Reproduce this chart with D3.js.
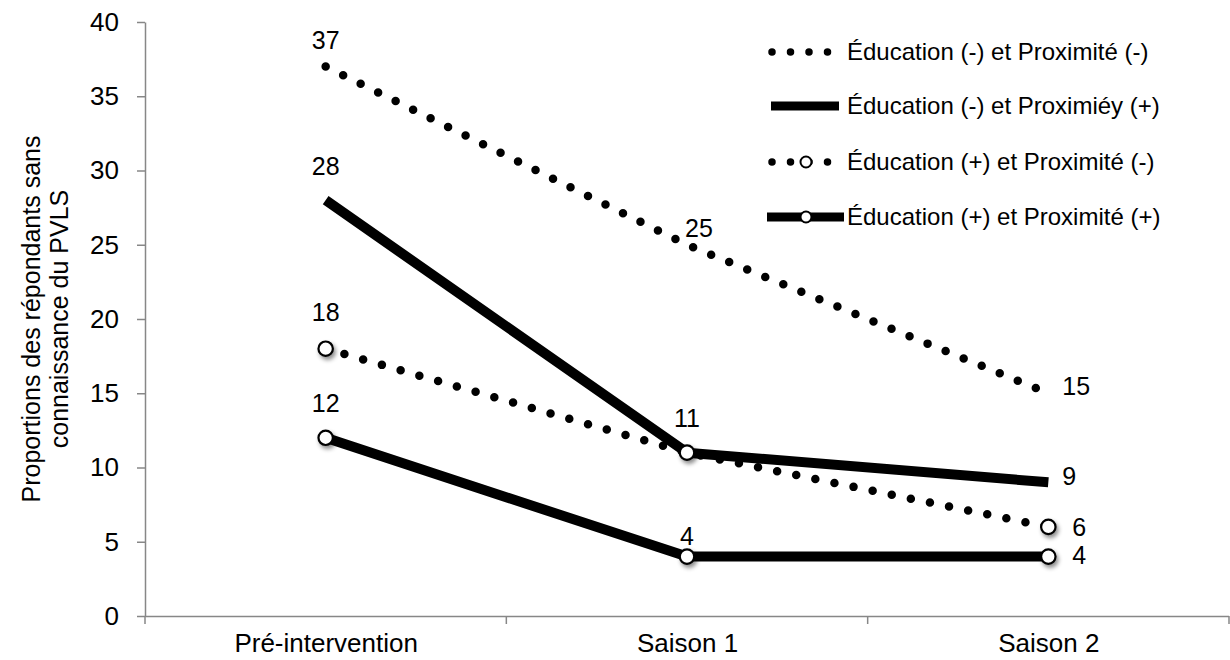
<!DOCTYPE html>
<html><head><meta charset="utf-8">
<script src="https://cdn.jsdelivr.net/npm/d3@7"></script>
<style>
body{margin:0;background:#fff}
svg{display:block}
text{font-family:"Liberation Sans",Arial,Helvetica,sans-serif;fill:#000}
</style>
</head><body>
<svg id="chart" width="1230" height="660"></svg>
<script>
// ---- data ----
const categories = ["Pré-intervention", "Saison 1", "Saison 2"];
const seriesNames = [
  "Éducation (-) et Proximité (-)",
  "Éducation (-) et Proximiéy (+)",
  "Éducation (+) et Proximité (-)",
  "Éducation (+) et Proximité (+)"
];
const eduMoinsProxMoins = [37, 25, 15];
const eduMoinsProxPlus  = [28, 11, 9];
const eduPlusProxMoins  = [18, 11, 6];
const eduPlusProxPlus   = [12, 4, 4];
const yTicks = [0, 5, 10, 15, 20, 25, 30, 35, 40];
const yTitle = ["Proportions des répondants sans", "connaissance du PVLS"];

(function () {
// ---- styles / layout (not data) ----
const series = [
  {name: seriesNames[0], values: eduMoinsProxMoins, dotted: true,  marker: false,
   labels: [{a:"middle",dx:0,dy:-26},{a:"middle",dx:12,dy:-17},{a:"start",dx:14,dy:-7}]},
  {name: seriesNames[1], values: eduMoinsProxPlus,  dotted: false, marker: false,
   labels: [{a:"middle",dx:0,dy:-34},null,{a:"start",dx:14,dy:-6}]},
  {name: seriesNames[2], values: eduPlusProxMoins,  dotted: true,  marker: true,
   labels: [{a:"middle",dx:0,dy:-36},{a:"middle",dx:0,dy:-34},{a:"start",dx:24,dy:0}]},
  {name: seriesNames[3], values: eduPlusProxPlus,   dotted: false, marker: true,
   labels: [{a:"middle",dx:0,dy:-35},{a:"middle",dx:0,dy:-20},{a:"start",dx:24,dy:-1}]}
];

const svg = d3.select("#chart");
const mLeft = 145, mRight = 1229, mTop = 22, mBottom = 616;
const axisColor = "#878787";
const fsAxis = 26, fsTitle = 25, fsLab = 25, fsLeg = 24;

const defs = svg.append("defs");
defs.append("filter").attr("id","sh").attr("x","-60%").attr("y","-60%").attr("width","220%").attr("height","220%")
  .append("feDropShadow").attr("dx",2).attr("dy",3).attr("stdDeviation",2)
  .attr("flood-color","#000").attr("flood-opacity",0.45);

const x = d3.scalePoint().domain(categories).range([mLeft, mRight]).padding(0.5);
const xb = d3.scaleBand().domain(categories).range([mLeft, mRight]);
const y = d3.scaleLinear().domain([0, 40]).range([mBottom, mTop]);

// y axis
const yAxis = svg.append("g").attr("transform", `translate(${mLeft},0)`)
  .call(d3.axisLeft(y).tickValues(yTicks).tickSize(8).tickPadding(18).tickSizeOuter(0));
yAxis.select(".domain").attr("stroke", axisColor).attr("stroke-width", 1.5);
yAxis.selectAll(".tick line").attr("stroke", axisColor).attr("stroke-width", 1.5);
yAxis.selectAll(".tick text").attr("font-size", fsAxis).attr("fill", "#000")
  .attr("font-family", '"Liberation Sans",Arial,sans-serif');

// x axis
const xAxis = svg.append("g").attr("transform", `translate(0,${mBottom})`)
  .call(d3.axisBottom(x).tickSize(0).tickPadding(0).tickSizeOuter(0));
xAxis.select(".domain").attr("stroke", axisColor).attr("stroke-width", 1.5)
  .attr("d", `M${mLeft},0.5H${mRight}`);
xAxis.selectAll(".tick text").attr("font-size", fsAxis).attr("fill", "#000")
  .attr("dy", null).attr("y", 36)
  .attr("font-family", '"Liberation Sans",Arial,sans-serif');
const bounds = categories.map(c => xb(c)).concat([xb.range()[1]]);
xAxis.selectAll(".bt").data(bounds).enter().append("line")
  .attr("x1", d => d).attr("x2", d => d).attr("y1", 0).attr("y2", 8)
  .attr("stroke", axisColor).attr("stroke-width", 1.5);

// y title
const yt = svg.append("text").attr("transform", `translate(0,${(mTop + mBottom) / 2}) rotate(-90)`)
  .attr("text-anchor", "middle").attr("font-size", fsTitle);
yt.selectAll("tspan").data(yTitle).enter().append("tspan")
  .attr("x", 0).attr("y", (d, i) => 40 + i * 28).text(d => d);

// lines
const line = d3.line().x((d, i) => x(categories[i])).y(d => y(d));
const plot = svg.append("g");
series.forEach(s => {
  const p = plot.append("path").datum(s.values).attr("d", line)
    .attr("fill", "none").attr("stroke", "#000").attr("stroke-linejoin", "round");
  if (s.dotted) {
    p.attr("stroke-width", 8.5).attr("stroke-linecap", "round").attr("stroke-dasharray", "0 19.5");
  } else {
    p.attr("stroke-width", 10).attr("stroke-linecap", "butt");
  }
});
// markers
series.filter(s => s.marker).forEach(s => {
  plot.selectAll(null).data(s.values).enter().append("circle")
    .attr("cx", (d, i) => x(categories[i])).attr("cy", d => y(d)).attr("r", 7.2)
    .attr("fill", "#fff").attr("stroke", "#000").attr("stroke-width", 2.2)
    .attr("filter", "url(#sh)");
});
// data labels
series.forEach(s => {
  s.values.forEach((v, i) => {
    const l = s.labels[i];
    if (!l) return;
    svg.append("text").attr("x", x(categories[i]) + l.dx).attr("y", y(v) + l.dy)
      .attr("dy", "0.35em").attr("text-anchor", l.a).attr("font-size", fsLab).text(v);
  });
});

// legend
const legY = [52, 106, 162, 217];
const lg = svg.append("g");
series.forEach((s, i) => {
  const yy = legY[i];
  if (s.dotted) {
    lg.append("line").attr("x1", 772).attr("x2", 828).attr("y1", yy).attr("y2", yy)
      .attr("stroke", "#000").attr("stroke-width", 7.5).attr("stroke-linecap", "round")
      .attr("stroke-dasharray", "0 18.5");
  } else {
    lg.append("line").attr("x1", s.marker ? 767 : 771).attr("x2", s.marker ? 844 : 839)
      .attr("y1", yy).attr("y2", yy).attr("stroke", "#000").attr("stroke-width", 9);
  }
  if (s.marker) {
    lg.append("circle").attr("cx", 806).attr("cy", yy).attr("r", 5.5)
      .attr("fill", "#fff").attr("stroke", "#000").attr("stroke-width", 2);
  }
  lg.append("text").attr("x", 847).attr("y", yy).attr("dy", "0.35em")
    .attr("font-size", fsLeg).text(s.name);
});
})();
</script>
</body></html>
